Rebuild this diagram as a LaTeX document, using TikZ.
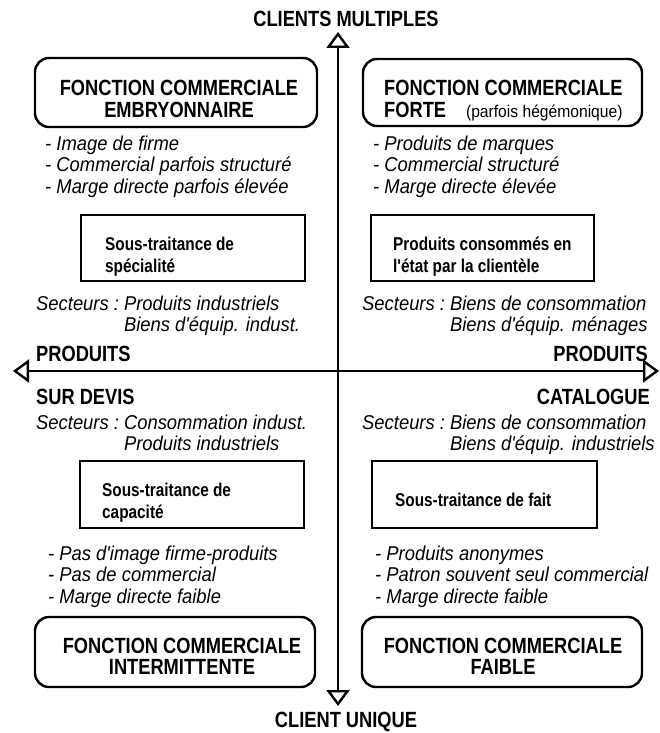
\documentclass[tikz,border=0pt]{standalone}
\usepackage{fontspec}
\setmainfont{Liberation Sans}[FakeStretch=0.83, Ligatures=TeXOff]
\newfontfamily\bodyfont{Liberation Sans}[FakeStretch=0.92, Ligatures=TeXOff]
\usetikzlibrary{arrows.meta}

\begin{document}
\begin{tikzpicture}[x=1pt,y=-1pt,
    head/.style={font=\bfseries\fontsize{22}{21}\selectfont, inner sep=0pt},
    item/.style={font=\bodyfont\itshape\fontsize{20}{21.5}\selectfont, inner sep=0pt, anchor=base west},
    boxtext/.style={font=\bfseries\fontsize{18.5}{22}\selectfont, inner sep=0pt, anchor=base west},
    roundbox/.style={draw, line width=2.4pt, rounded corners=14pt, minimum width=280pt, minimum height=69pt},
    subbox/.style={draw, line width=2.6pt, minimum width=224pt, minimum height=66pt},
    axis/.style={line width=2.4pt,
        {Triangle[fill=white,length=16pt,width=23pt]}-{Triangle[fill=white,length=16pt,width=23pt]}}]
    \useasboundingbox (0,0) rectangle (660,733);
    % axes
    \coordinate (top) at (338,32);
    \coordinate (bottom) at (338,706);
    \coordinate (left) at (13,371);
    \coordinate (right) at (659,371);
    \draw[axis] (bottom) -- (top);
    \draw[axis] (left) -- (right);
    \node[head, anchor=base] (multi) at (346,27) {CLIENTS MULTIPLES};
    \node[head, anchor=base] (unique) at (346,727) {CLIENT UNIQUE};
    \node[head, anchor=base west] (prodl) at (36,361) {PRODUITS};
    \node[head, anchor=base east] (prodr) at (648,361) {PRODUITS};
    \node[head, anchor=base west] (devis) at (36,404) {SUR DEVIS};
    \node[head, anchor=base east] (catal) at (650,404) {CATALOGUE};
    % rounded boxes
    \node[roundbox, minimum width=282pt] (emb) at (176,92.5) {};
    \node[head, anchor=base] (embt) at (179,96)
        {\begin{tabular}[t]{@{}c@{}}FONCTION COMMERCIALE\\EMBRYONNAIRE\end{tabular}};
    \node[roundbox, minimum width=279pt, minimum height=67pt] (forte) at (502.5,92.5) {};
    \node[head, anchor=base west] (fortet) at (384,96)
        {\begin{tabular}[t]{@{}l@{}}FONCTION COMMERCIALE\\FORTE\hfill{\bodyfont\mdseries\fontsize{17}{17}\selectfont(parfois hégémonique)}\end{tabular}};
    \node[roundbox, minimum height=70pt] (inter) at (175,652) {};
    \node[head, anchor=base] (intert) at (182,653)
        {\begin{tabular}[t]{@{}c@{}}FONCTION COMMERCIALE\\INTERMITTENTE\end{tabular}};
    \node[roundbox, minimum height=70pt] (faible) at (502,652) {};
    \node[head, anchor=base] (faiblet) at (503,653)
        {\begin{tabular}[t]{@{}c@{}}FONCTION COMMERCIALE\\FAIBLE\end{tabular}};
    % lists
    \node[item] (embl) at (45,150)
        {\begin{tabular}[t]{@{}l@{}}- Image de firme\\- Commercial parfois structuré\\- Marge directe parfois élevée\end{tabular}};
    \node[item] (fortel) at (373,150)
        {\begin{tabular}[t]{@{}l@{}}- Produits de marques\\- Commercial structuré\\- Marge directe élevée\end{tabular}};
    \node[item] (interl) at (48,560)
        {\begin{tabular}[t]{@{}l@{}}- Pas d'image firme-produits\\- Pas de commercial\\- Marge directe faible\end{tabular}};
    \node[item] (faiblel) at (375,560)
        {\begin{tabular}[t]{@{}l@{}}- Produits anonymes\\- Patron souvent seul commercial\\- Marge directe faible\end{tabular}};
    % inner boxes
    \node[subbox] (spec) at (193,248) {};
    \node[boxtext] (spect) at (105,250)
        {\begin{tabular}[t]{@{}l@{}}Sous-traitance de\\spécialité\end{tabular}};
    \node[subbox, minimum width=223pt] (etat) at (482.5,248) {};
    \node[boxtext] (etatt) at (393,250)
        {\begin{tabular}[t]{@{}l@{}}Produits consommés en\\l'état par la clientèle\end{tabular}};
    \node[subbox, minimum height=67pt] (capa) at (192,494.5) {};
    \node[boxtext] (capat) at (102,496)
        {\begin{tabular}[t]{@{}l@{}}Sous-traitance de\\capacité\end{tabular}};
    \node[subbox, minimum width=225pt, minimum height=67pt] (fait) at (484.5,494.5) {};
    \node[boxtext] (faitt) at (395,506.5) {Sous-traitance de fait};
    % secteurs
    \node[item] (sectl) at (36,310)
        {\begin{tabular}[t]{@{}l@{\hspace{5pt}}l@{}}Secteurs : & Produits industriels\\ & Biens d'équip. indust.\end{tabular}};
    \node[item] (sectr) at (362,310)
        {\begin{tabular}[t]{@{}l@{\hspace{5pt}}l@{}}Secteurs : & Biens de consommation\\ & Biens d'équip. ménages\end{tabular}};
    \node[item] (sectdl) at (36,429)
        {\begin{tabular}[t]{@{}l@{\hspace{5pt}}l@{}}Secteurs : & Consommation indust.\\ & Produits industriels\end{tabular}};
    \node[item] (sectdr) at (362,429)
        {\begin{tabular}[t]{@{}l@{\hspace{5pt}}l@{}}Secteurs : & Biens de consommation\\ & Biens d'équip. industriels\end{tabular}};
\end{tikzpicture}
\end{document}
